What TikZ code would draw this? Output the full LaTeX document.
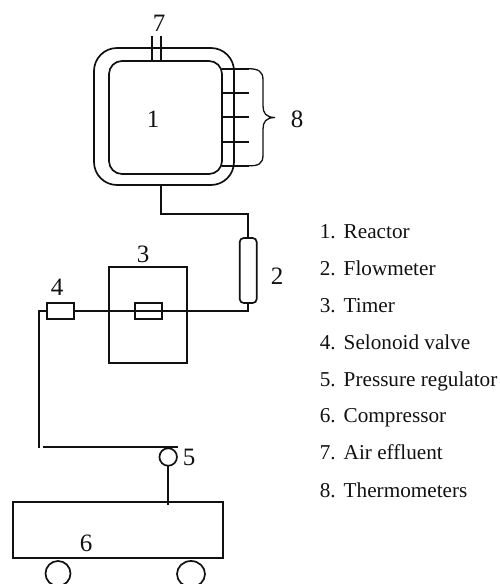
\documentclass[tikz,border=0pt]{standalone}
\usepackage{fontspec}
\setmainfont{Liberation Serif}
\usetikzlibrary{positioning}
\definecolor{cLine}{HTML}{111111}
\begin{document}
\begin{tikzpicture}[x=1pt, y=-1pt, line width=1.7pt, draw=cLine, text=cLine,
        vessel/.style = {draw, inner sep=0pt, outer sep=0pt},
        num/.style = {font=\fontsize{25}{25}\selectfont, inner sep=0pt},
        item/.style = {font=\fontsize{21.2}{22}\selectfont, inner sep=0pt, anchor=base west} ]
      \useasboundingbox (0,0) rectangle (500,584);
      \clip (0,0) rectangle (500,584);
      % reactor
      \node[vessel, rounded corners=23pt, minimum width=140pt, minimum height=137pt] (jacket) at (164,116.5) {};
      \node[vessel, rounded corners=13pt, minimum width=113pt, minimum height=113pt] (reactor) at (165.5,117.5) {};
      \node[num] (n1) at (153,119) {1};
      \coordinate (a1) at (152,36);
      \coordinate (a2) at (161,36);
      \draw (a1) -- (a1 |- reactor.north);
      \draw (a2) -- (a2 |- reactor.north);
      \node[num] (n7) at (159,23) {7};
      % thermometers
      \foreach \i/\yy in {1/68.7, 2/93, 3/117, 4/142, 5/165.7} {
        \coordinate (t\i) at (249,\yy);
        \draw (t\i) -- (t\i -| reactor.east);
      }
      \coordinate (tip) at (275,117.5);
      \draw[line width=1.3pt] (t1) .. controls (258,69) and (263,71) .. (263,80) -- (263,106)
        .. controls (263,113) and (266,117.5) .. (tip)
        .. controls (266,117.5) and (263,122) .. (263,129) -- (263,155)
        .. controls (263,164) and (258,166) .. (t5);
      \node[num] (n8) at (297,119) {8};
      % flowmeter
      \node[vessel, rounded corners=4pt, minimum width=17pt, minimum height=65pt] (flow) at (248.2,270.5) {};
      \node[num] (n2) at (277,276) {2};
      \coordinate (out) at (161,185);
      \coordinate (bend) at (248.2,214);
      \draw (out) |- (bend) -- (flow.north);
      % timer and valves
      \node[vessel, minimum width=78pt, minimum height=96pt] (timer) at (148,315) {};
      \node[vessel, minimum width=27pt, minimum height=16pt] (valve3) at (148.5,311) {};
      \node[vessel, minimum width=27pt, minimum height=16pt] (valve4) at (60.5,311) {};
      \node[num] (n3) at (143,254) {3};
      \node[num] (n4) at (57,287) {4};
      \draw (flow.south) |- (valve4.east);
      \coordinate (low) at (39,448);
      \draw (valve4.west) -| (low);
      % regulator and compressor
      \node[vessel, circle, minimum size=17.5pt] (reg) at (168.2,457) {};
      \node[num] (n5) at (189,457) {5};
      \coordinate (p1) at (43,447);
      \coordinate (p2) at (178,447);
      \draw[line width=1.3pt] (p1) -- (p2);
      \node[vessel, minimum width=210pt, minimum height=56pt] (comp) at (118,530) {};
      \node[num] (n6) at (86,543) {6};
      \coordinate (stem) at (reg.south |- 0,505);
      \draw (reg.south) -- (stem);
      \draw (58,573.5) ellipse (12.5pt and 12.5pt);
      \draw (191,574) ellipse (14pt and 13pt);
      % legend
      \node[item] (l1) at (319,238) {1.\hspace{8pt}Reactor};
      \node[item] (l2) at (319,275) {2.\hspace{8pt}Flowmeter};
      \node[item] (l3) at (319,312) {3.\hspace{8pt}Timer};
      \node[item] (l4) at (319,349) {4.\hspace{8pt}Selonoid valve};
      \node[item] (l5) at (319,386) {5.\hspace{8pt}Pressure regulator};
      \node[item] (l6) at (319,422) {6.\hspace{8pt}Compressor};
      \node[item] (l7) at (319,459) {7.\hspace{8pt}Air effluent};
      \node[item] (l8) at (319,497) {8.\hspace{8pt}Thermometers};
    \end{tikzpicture}
\end{document}
